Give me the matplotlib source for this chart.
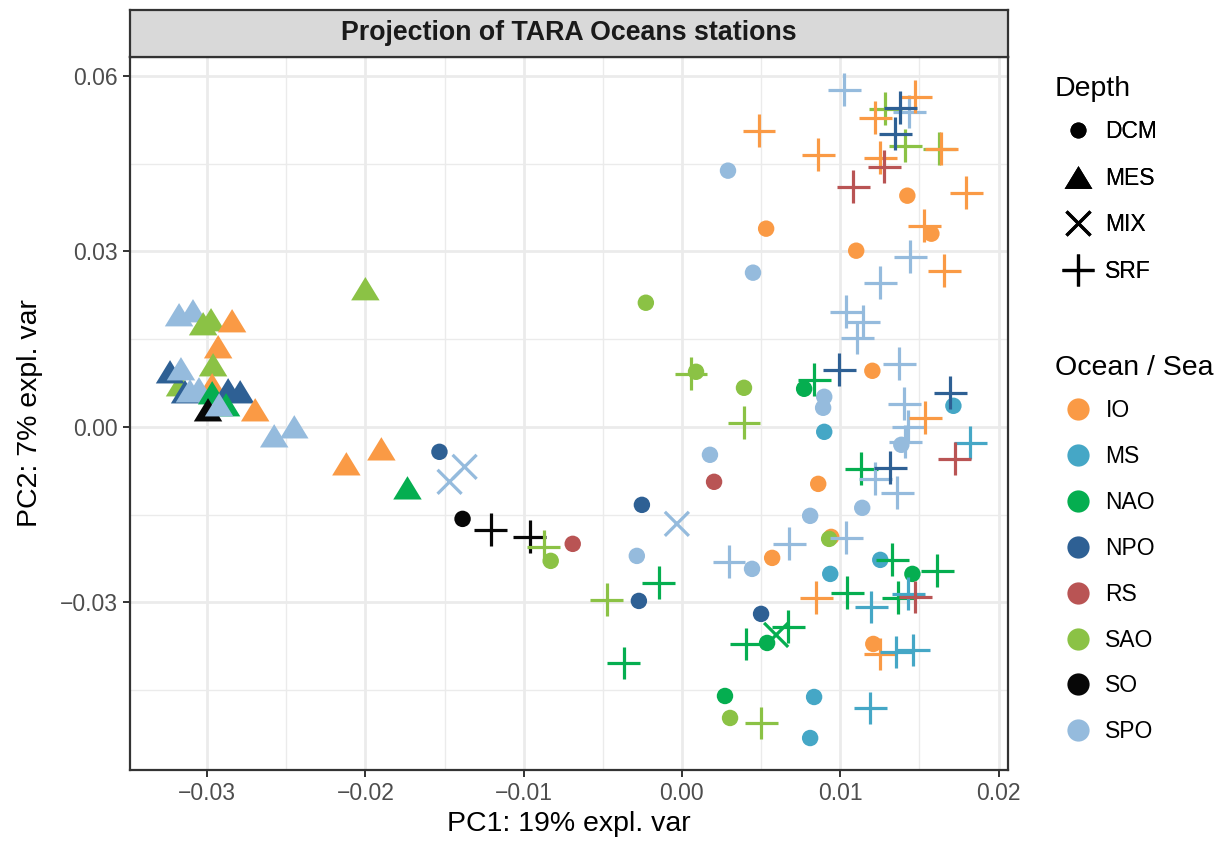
import numpy as np
import matplotlib.pyplot as plt
from matplotlib.lines import Line2D

plt.rcParams['font.family'] = ['Liberation Sans', 'DejaVu Sans']

# ocean / sea colours
sea_names = ['IO', 'MS', 'NAO', 'NPO', 'RS', 'SAO', 'SO', 'SPO']
sea_colors = ['#FA9A45', '#45A7C6', '#05AE50', '#2E6094', '#B95454', '#8BC245', '#070707', '#95BBDD']
sea_col = dict(zip(sea_names, sea_colors))

# DCM samples (circles)
dcm_sea = ['IO', 'IO', 'IO', 'IO', 'IO', 'IO', 'IO', 'IO', 'IO',
           'MS', 'MS', 'MS', 'MS', 'MS', 'MS',
           'NAO', 'NAO', 'NAO', 'NAO',
           'NPO', 'NPO', 'NPO', 'NPO',
           'RS', 'RS',
           'SAO', 'SAO', 'SAO', 'SAO', 'SAO', 'SAO',
           'SO',
           'SPO', 'SPO', 'SPO', 'SPO', 'SPO', 'SPO', 'SPO', 'SPO', 'SPO', 'SPO']
dcm_pc1 = [0.01424, 0.00532, 0.01101, 0.01576, 0.01203, 0.00861, 0.00570, 0.01209, 0.00943,
           0.01715, 0.00899, 0.00937, 0.01253, 0.00835, 0.00810,
           0.00772, 0.01456, 0.00538, 0.00272,
           -0.01532, -0.00253, -0.00272, 0.00500,
           0.00203, -0.00690,
           -0.00228, 0.00089, 0.00392, 0.00930, -0.00829, 0.00304,
           -0.01386,
           0.00291, 0.00449, 0.00899, 0.00892, 0.00177, 0.00810, -0.00285, 0.00443, 0.01139, 0.01386]
dcm_pc2 = [0.03953, 0.03389, 0.03012, 0.03303, 0.00958, -0.00976, -0.02242, -0.03714, -0.01883,
           0.00359, -0.00086, -0.02516, -0.02276, -0.04621, -0.05323,
           0.00650, -0.02516, -0.03697, -0.04604,
           -0.00428, -0.01335, -0.02978, -0.03200,
           -0.00941, -0.02002,
           0.02122, 0.00941, 0.00667, -0.01917, -0.02293, -0.04980,
           -0.01575,
           0.04381, 0.02636, 0.00513, 0.00325, -0.00479, -0.01523, -0.02208, -0.02430, -0.01386, -0.00308]

# MES samples (triangles)
mes_sea = ['SPO', 'SPO', 'SAO', 'SAO', 'IO', 'IO', 'SAO', 'SAO', 'IO', 'NPO', 'SPO',
           'NPO', 'SPO', 'SPO', 'NAO', 'NPO', 'NPO', 'NAO', 'SO', 'SPO', 'IO',
           'SAO', 'IO', 'IO', 'NAO', 'SPO', 'SPO']
mes_pc1 = [-0.03177, -0.03089, -0.03025, -0.02975, -0.02842, -0.02930, -0.03171, -0.02962, -0.02968, -0.03234, -0.03165,
           -0.03139, -0.03108, -0.03051, -0.02968, -0.02867, -0.02791, -0.02880, -0.02994, -0.02924, -0.02696,
           -0.02000, -0.02120, -0.01899, -0.01734, -0.02576, -0.02449]
mes_pc2 = [0.01917, 0.01985, 0.01763, 0.01831, 0.01814, 0.01369, 0.00719, 0.01061, 0.00719, 0.00941, 0.00993,
           0.00599, 0.00616, 0.00650, 0.00582, 0.00633, 0.00599, 0.00377, 0.00291, 0.00377, 0.00291,
           0.02362, -0.00633, -0.00377, -0.01044, -0.00154, 0.00000]

# MIX samples (x)
mix_sea = ['SPO', 'SPO', 'SPO', 'NAO']
mix_pc1 = [-0.01468, -0.01373, -0.00032, 0.00595]
mix_pc2 = [-0.00941, -0.00685, -0.01660, -0.03560]

# SRF samples (+)
srf_sea = ['SO', 'SO',
           'SAO', 'SAO', 'SAO', 'SAO', 'SAO', 'SAO', 'SAO', 'SAO',
           'NAO', 'NAO', 'NAO', 'NAO', 'NAO', 'NAO', 'NAO', 'NAO', 'NAO', 'NAO',
           'SPO', 'SPO', 'SPO', 'SPO', 'SPO', 'SPO', 'SPO', 'SPO', 'SPO', 'SPO',
           'SPO', 'SPO', 'SPO', 'SPO', 'SPO', 'SPO',
           'IO', 'IO', 'IO', 'IO', 'IO', 'IO', 'IO', 'IO', 'IO', 'IO', 'IO', 'IO',
           'MS', 'MS', 'MS', 'MS', 'MS', 'MS',
           'RS', 'RS', 'RS', 'RS',
           'NPO', 'NPO', 'NPO', 'NPO', 'NPO']
srf_pc1 = [-0.01209, -0.00962,
           -0.00873, -0.00475, 0.00057, 0.00392, 0.00500, 0.01285, 0.01411, 0.01627,
           -0.00146, -0.00367, 0.00835, 0.01329, 0.01614, 0.01044, 0.01367, 0.00671, 0.00405, 0.01133,
           0.00297, 0.00677, 0.01038, 0.01025, 0.01437, 0.01443, 0.01253, 0.01038, 0.01146, 0.01108,
           0.01373, 0.01405, 0.01430, 0.01411, 0.01222, 0.01361,
           0.00848, 0.01253, 0.01475, 0.00487, 0.00861, 0.01222, 0.01639, 0.01253, 0.01797, 0.01532, 0.01658, 0.01538,
           0.01196, 0.01430, 0.01354, 0.01462, 0.01190, 0.01823,
           0.01475, 0.01278, 0.01082, 0.01722,
           0.01380, 0.01348, 0.00994, 0.01696, 0.01316]
srf_pc2 = [-0.01763, -0.01883,
           -0.02054, -0.02961, 0.00907, 0.00068, -0.05066, 0.05442, 0.04809, 0.04758,
           -0.02670, -0.04039, 0.00804, -0.02276, -0.02464, -0.02841, -0.02927, -0.03423, -0.03714, -0.00719,
           -0.02310, -0.02002, -0.01900, 0.05768, 0.05391, 0.02909, 0.02464, 0.01968, 0.01797, 0.01523,
           0.01078, 0.00394, 0.00000, -0.00257, -0.00890, -0.01130,
           -0.02927, -0.03885, 0.05648, 0.05066, 0.04655, 0.05288, 0.04758, 0.04604, 0.04005, 0.03440, 0.02670, 0.00154,
           -0.03081, -0.02858, -0.03851, -0.03817, -0.04809, -0.00274,
           -0.02910, 0.04450, 0.04107, -0.00548,
           0.05460, 0.05015, 0.00976, 0.00582, -0.00702]

tri = [(0, 0.82), (-1, -0.82), (1, -0.82), (0, 0.82)]

W, H = 1225, 841
fig = plt.figure(figsize=(W / 100, H / 100), dpi=100)
ax = fig.add_axes([130 / W, 1 - 770 / H, 878 / W, 713 / H])

ax.scatter(dcm_pc1, dcm_pc2, c=[sea_col[s] for s in dcm_sea], marker='o', s=140, linewidths=0, zorder=3)
ax.scatter(mes_pc1, mes_pc2, c=[sea_col[s] for s in mes_sea], marker=tri, s=420, linewidths=0, zorder=3)
ax.scatter(mix_pc1, mix_pc2, c=[sea_col[s] for s in mix_sea], marker='x', s=300, linewidths=2.3, zorder=3)
ax.scatter(srf_pc1, srf_pc2, c=[sea_col[s] for s in srf_sea], marker='+', s=560, linewidths=2.3, zorder=3)

ax.set_xlim(-0.03487, 0.0206)
ax.set_ylim(-0.0587, 0.06325)
ax.set_xticks([-0.03, -0.02, -0.01, 0.0, 0.01, 0.02])
ax.set_xticklabels(['\u22120.03', '\u22120.02', '\u22120.01', '0.00', '0.01', '0.02'])
ax.set_yticks([-0.03, 0.0, 0.03, 0.06])
ax.set_yticklabels(['\u22120.03', '0.00', '0.03', '0.06'])
ax.set_xticks([-0.025, -0.015, -0.005, 0.005, 0.015], minor=True)
ax.set_yticks([-0.045, -0.015, 0.015, 0.045], minor=True)
ax.grid(which='major', color='#EBEBEB', linewidth=2.0, zorder=0)
ax.grid(which='minor', color='#EBEBEB', linewidth=1.0, zorder=0)
ax.set_axisbelow(True)
ax.tick_params(which='major', length=5, width=1.4, color='#333333', labelsize=16.5, labelcolor='#4D4D4D', pad=4)
ax.tick_params(which='minor', length=0)
for sp in ax.spines.values():
    sp.set_color('#333333')
    sp.set_linewidth(1.6)
ax.set_xlabel('PC1: 19% expl. var', fontsize=20.5, labelpad=4)
ax.set_ylabel('PC2: 7% expl. var', fontsize=20.5, labelpad=12)

# facet strip
sax = fig.add_axes([130 / W, 1 - 57 / H, 878 / W, 47 / H])
sax.set_facecolor('#D9D9D9')
sax.set_xticks([])
sax.set_yticks([])
for sp in sax.spines.values():
    sp.set_color('#333333')
    sp.set_linewidth(1.6)
sax.text(0.5, 0.5, 'Projection of TARA Oceans stations', transform=sax.transAxes,
         ha='center', va='center', fontsize=19.3, fontweight='bold', color='#1A1A1A')

# legends (titles drawn as plain text)
fig.text(1055 / W, 1 - 96 / H, 'Depth', fontsize=20.5, va='baseline', ha='left')
fig.text(1055 / W, 1 - 375 / H, 'Ocean / Sea', fontsize=20.5, va='baseline', ha='left')

depth_handles = [
    Line2D([], [], linestyle='none', marker='o', markersize=11.5, color='black', markeredgewidth=0),
    Line2D([], [], linestyle='none', marker=tri, markersize=20, color='black', markeredgewidth=0),
    Line2D([], [], linestyle='none', marker='x', markersize=17, color='black', markeredgewidth=2.3),
    Line2D([], [], linestyle='none', marker='+', markersize=23.5, color='black', markeredgewidth=2.3),
]
leg1 = fig.legend(depth_handles, ['DCM', 'MES', 'MIX', 'SRF'], loc='upper left',
                  bbox_to_anchor=(1055 / W, 1 - 120 / H), frameon=False, fontsize=16.5,
                  borderpad=0, borderaxespad=0, labelspacing=1.03, handletextpad=0.2,
                  handlelength=2.0)
sea_handles = [Line2D([], [], linestyle='none', marker='o', markersize=16, color=c, markeredgewidth=0)
               for c in sea_colors]
leg2 = fig.legend(sea_handles, sea_names, loc='upper left',
                  bbox_to_anchor=(1055 / W, 1 - 399 / H), frameon=False, fontsize=16.5,
                  borderpad=0, borderaxespad=0, labelspacing=1.0, handletextpad=0.2,
                  handlelength=2.0)
fig.add_artist(leg1)

fig.savefig('out.png', dpi=100)
